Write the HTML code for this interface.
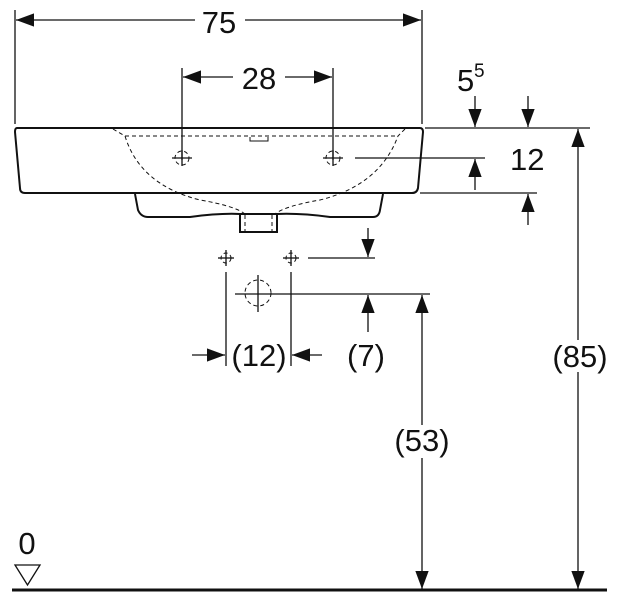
<!DOCTYPE html>
<html><head><style>body{margin:0;background:#fff}svg{display:block}text{font-family:"Liberation Sans",sans-serif;fill:#111}</style></head>
<body><svg width="620" height="602" viewBox="0 0 620 602" xmlns="http://www.w3.org/2000/svg">
<defs>
<marker id="a" viewBox="0 0 10 10" refX="10" refY="5" markerWidth="18" markerHeight="18" markerUnits="userSpaceOnUse" orient="auto"><path d="M0,1.3L10,5L0,8.7z" fill="#111"/></marker>
</defs>
<g stroke="#111" stroke-width="1.3" fill="none">
<line x1="15" y1="10" x2="15" y2="124"/><line x1="422" y1="10" x2="422" y2="124"/>
<line x1="30" y1="20" x2="16" y2="20" marker-end="url(#a)"/><line x1="30" y1="20" x2="195" y2="20"/>
<line x1="245" y1="20" x2="405" y2="20"/><line x1="405" y1="20" x2="421" y2="20" marker-end="url(#a)"/>
<line x1="182" y1="68" x2="182" y2="160"/><line x1="333" y1="68" x2="333" y2="160"/>
<line x1="233" y1="77" x2="183" y2="77" marker-end="url(#a)"/><line x1="285" y1="77" x2="332" y2="77" marker-end="url(#a)"/>
<path d="M17,128 L420,128 Q423,128 423,132 L418,188 Q417,193 412,193 L25,193 Q20,193 20,188 L15,132 Q15,128 17,128Z" stroke-width="2"/>
<path d="M135,194 L138,210 Q141,217 148,217 L190,217 Q220,213 240,214 L277,214 Q300,213 330,217 L373,217 Q379,217 380,210 L383,194" stroke-width="2"/>
<rect x="240" y="214" width="37" height="18" stroke-width="2"/>
<g stroke-dasharray="4,3" stroke-width="1">
<line x1="125" y1="136" x2="398" y2="136"/>
<path d="M113,129 L125,136 Q140,185 200,200 Q235,206 245,214"/>
<path d="M405,129 L398,136 Q380,185 320,200 Q285,206 275,214"/>
<line x1="245" y1="215" x2="245" y2="231"/><line x1="272" y1="215" x2="272" y2="231"/>
<circle cx="182" cy="158" r="7"/><circle cx="333" cy="158" r="7"/>
<circle cx="226" cy="258" r="5"/><circle cx="291" cy="258" r="5"/>
<circle cx="258" cy="293" r="13"/>
</g>
<path d="M250,137 v4 h18 v-4" stroke-width="1"/>
<line x1="172" y1="158" x2="192" y2="158"/><line x1="182" y1="150" x2="182" y2="166"/>
<line x1="323" y1="158" x2="343" y2="158"/><line x1="333" y1="150" x2="333" y2="166"/>
<line x1="355" y1="158" x2="485" y2="158"/>
<line x1="425" y1="128" x2="590" y2="128"/>
<line x1="420" y1="193" x2="537" y2="193"/>
<line x1="475" y1="96" x2="475" y2="127" marker-end="url(#a)"/>
<line x1="528" y1="96" x2="528" y2="127" marker-end="url(#a)"/>
<line x1="475" y1="190" x2="475" y2="159" marker-end="url(#a)"/>
<line x1="528" y1="225" x2="528" y2="194" marker-end="url(#a)"/>
<line x1="578" y1="340" x2="578" y2="129" marker-end="url(#a)"/>
<line x1="578" y1="372" x2="578" y2="589" marker-end="url(#a)"/>
<line x1="218" y1="258" x2="234" y2="258"/><line x1="226" y1="250" x2="226" y2="266"/>
<line x1="283" y1="258" x2="299" y2="258"/><line x1="291" y1="250" x2="291" y2="266"/>
<line x1="308" y1="258" x2="375" y2="258"/>
<line x1="368" y1="228" x2="368" y2="257" marker-end="url(#a)"/>
<line x1="235" y1="294" x2="430" y2="294"/>
<line x1="258" y1="275" x2="258" y2="312"/>
<line x1="368" y1="332" x2="368" y2="295" marker-end="url(#a)"/>
<line x1="422" y1="425" x2="422" y2="295" marker-end="url(#a)"/>
<line x1="422" y1="458" x2="422" y2="589" marker-end="url(#a)"/>
<line x1="226" y1="272" x2="226" y2="366"/><line x1="291" y1="272" x2="291" y2="366"/>
<line x1="192" y1="355" x2="225" y2="355" marker-end="url(#a)"/>
<line x1="322" y1="355" x2="292" y2="355" marker-end="url(#a)"/>
<line x1="12" y1="590" x2="607" y2="590" stroke-width="3"/>
<path d="M15,565 L40,565 L27.5,585Z" stroke-width="1.3"/>
</g>
<g font-size="31">
<text x="219" y="33" text-anchor="middle">75</text>
<text x="259" y="89" text-anchor="middle">28</text>
<text x="457" y="91">5</text><text x="474" y="77" font-size="19">5</text>
<text x="510" y="170">12</text>
<text x="259" y="366" text-anchor="middle">(12)</text>
<text x="366" y="366" text-anchor="middle">(7)</text>
<text x="422" y="451" text-anchor="middle">(53)</text>
<text x="580" y="367" text-anchor="middle">(85)</text>
<text x="27" y="554" text-anchor="middle">0</text>
</g>
</svg></body></html>
